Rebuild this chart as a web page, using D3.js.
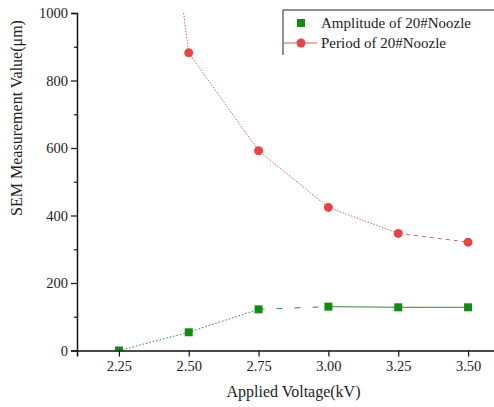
<!DOCTYPE html>
<html>
<head>
<meta charset="utf-8">
<script src="https://cdn.jsdelivr.net/npm/d3@7"></script>
<style>
body { margin: 0; background: #fff; }
text { font-family: "Liberation Serif", "Times New Roman", serif; fill: #222; }
</style>
</head>
<body>
<script>
// data
var voltage = [2.25, 2.50, 2.75, 3.00, 3.25, 3.50];
var amplitude = [0, 54, 122, 130, 128, 128];
var period = [2490, 882, 592, 424, 347, 321];
var xTicks = [2.25, 2.50, 2.75, 3.00, 3.25, 3.50];
var yTicks = [0, 200, 400, 600, 800, 1000];
var seriesNames = ["Amplitude of 20#Noozle", "Period of 20#Noozle"];

var W = 494, H = 407;
var margin = {top: 13, right: 0, bottom: 56, left: 77};

var svg = d3.select("body").append("svg")
    .attr("width", W)
    .attr("height", H);

var x = d3.scaleLinear().domain([2.10, 3.60]).range([margin.left, 496]);
var y = d3.scaleLinear().domain([0, 1000]).range([350.5, margin.top]);

svg.append("clipPath").attr("id", "plot")
  .append("rect")
    .attr("x", margin.left).attr("y", margin.top)
    .attr("width", W - margin.left).attr("height", y(0) - margin.top);

// lines, segment by segment since the style changes along the green one
var ampDash = ["1.5,2", "1.5,2", "6,12", "30,0", "30,0"];
var perDash = ["1.5,1.5", "1.5,1.5", "1.5,1.5", "1.5,1.5", "4,4"];

var plot = svg.append("g").attr("clip-path", "url(#plot)");

function drawSegs(vals, dashes, col, w) {
  for (var i = 0; i < vals.length - 1; i++) {
    plot.append("line")
      .attr("x1", x(voltage[i])).attr("y1", y(vals[i]))
      .attr("x2", x(voltage[i + 1])).attr("y2", y(vals[i + 1]))
      .attr("stroke", col)
      .attr("stroke-width", w)
      .attr("stroke-dasharray", dashes[i]);
  }
}
drawSegs(period, perDash, "#c9676a", 1);
drawSegs(amplitude, ampDash, "#2d8a2d", 1);

plot.selectAll(".amp")
  .data(voltage)
  .enter().append("rect")
    .attr("class", "amp")
    .attr("x", function(d) { return x(d) - 4; })
    .attr("y", function(d, i) { return y(amplitude[i]) - 4; })
    .attr("width", 8).attr("height", 8)
    .attr("fill", "#148a14");

plot.selectAll(".per")
  .data(voltage)
  .enter().append("circle")
    .attr("class", "per")
    .attr("cx", function(d) { return x(d); })
    .attr("cy", function(d, i) { return y(period[i]); })
    .attr("r", 4.5)
    .attr("fill", "#e84448");

// axes
var xAxis = d3.axisBottom(x)
    .tickValues(xTicks)
    .tickFormat(d3.format(".2f"))
    .tickSize(6)
    .tickPadding(4);

var yAxis = d3.axisLeft(y)
    .tickValues(yTicks)
    .tickFormat(d3.format("d"))
    .tickSize(6)
    .tickPadding(3);

var yMinor = d3.axisLeft(y)
    .tickValues([100, 300, 500, 700, 900])
    .tickFormat("")
    .tickSize(3);

var gx = svg.append("g")
    .attr("transform", "translate(0," + y(0) + ")")
    .call(xAxis);
var gy = svg.append("g")
    .attr("transform", "translate(" + margin.left + ",0)")
    .call(yAxis);
svg.append("g")
    .attr("transform", "translate(" + margin.left + ",0)")
    .call(yMinor)
    .select(".domain").remove();

[gx, gy].forEach(function(g) {
  g.attr("font-family", "Liberation Serif").attr("font-size", 14.5);
  g.select(".domain").attr("stroke", "#111").attr("stroke-width", 1.5);
  g.selectAll(".tick text").attr("fill", "#333");
});
svg.selectAll(".tick line").attr("stroke", "#111").attr("stroke-width", 1.2);

// axis titles
svg.append("text")
    .attr("x", x(2.875)).attr("y", 397)
    .attr("text-anchor", "middle")
    .style("font-size", "16px")
    .text("Applied Voltage(kV)");

svg.append("text")
    .attr("transform", "translate(22,118) rotate(-90)")
    .attr("text-anchor", "middle")
    .style("font-size", "16px")
    .text("SEM Measurement Value(\u03bcm)");

// legend
var lg = svg.append("g").attr("transform", "translate(283,10)");
lg.append("path")
    .attr("d", "M0,45V0H215")
    .attr("fill", "none")
    .attr("stroke", "#222")
    .attr("stroke-width", 1);

lg.append("rect").attr("x", 14).attr("y", 9).attr("width", 8).attr("height", 8).attr("fill", "#148a14");
lg.append("line").attr("x1", 0).attr("x2", 34).attr("y1", 33).attr("y2", 33)
    .attr("stroke", "#c9676a").attr("stroke-width", 1);
lg.append("circle").attr("cx", 18).attr("cy", 33).attr("r", 4.5).attr("fill", "#e84448");

lg.selectAll(".lt")
  .data(seriesNames)
  .enter().append("text")
    .attr("class", "lt")
    .attr("x", 38)
    .attr("y", function(d, i) { return 18 + i * 20; })
    .style("font-size", "15px")
    .text(function(d) { return d; });
</script>
</body>
</html>
